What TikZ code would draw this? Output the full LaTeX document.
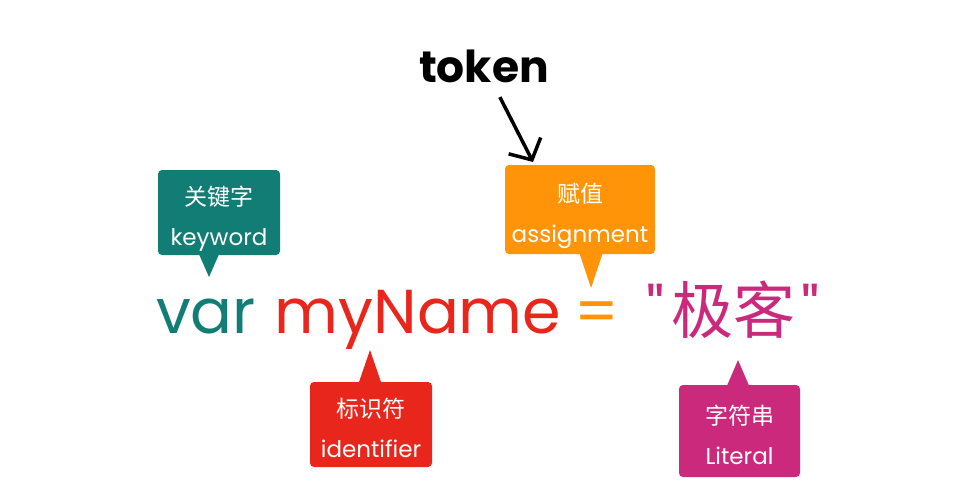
\documentclass[tikz,border=0pt]{standalone}
\usepackage{fontspec}
\setmainfont{Poppins}
\newfontfamily\cjk{Noto Sans CJK SC}
\newfontfamily\qfont[Ligatures=ResetAll]{Poppins}
\usepackage{xcolor}
\usepackage{tikz}
\usetikzlibrary{positioning,calc,arrows.meta}
\definecolor{kwgreen}{HTML}{127D74}
\definecolor{idred}{HTML}{E8261B}
\definecolor{asorange}{HTML}{FF9408}
\definecolor{litpink}{HTML}{CB2A7C}
\newcommand\tagtext[2]{\rule{0pt}{33pt}{\cjk #1}\\#2\rule[-7pt]{0pt}{0pt}}
\tikzset{
  tag/.style={fill=#1, text=white, rounded corners=4pt, inner sep=0pt, align=center,
    font=\fontsize{23}{40}\selectfont},
  code/.style={text=#1, anchor=base, inner sep=0pt, font=\fontsize{62}{70}\selectfont},
}

\begin{document}
\begin{tikzpicture}[x=1pt,y=-1pt]
    \useasboundingbox (0,0) rectangle (964,501);
    % Source line
    \node[code=kwgreen] (var) at (206,333) {var};
    \node[code=idred] (myname) at (418,333) {myName};
    \node[code=asorange] (eq) at (597,333) {=};
    \node[code=litpink] (lit) at (733,333) {{\qfont"}\hspace{6pt}{\cjk 极客}\hspace{6pt}{\qfont"}};
    % Keyword tag
    \node[tag=kwgreen, minimum width=122pt, minimum height=85pt] (kw) at (219,212.5) {\tagtext{关键字}{keyword}};
    \coordinate (kwtip) at (209,277);
    \fill[kwgreen] (kwtip) -- ++(-11,-25) -- ++(22,0) -- cycle;
    % Identifier tag
    \node[tag=idred, minimum width=122pt, minimum height=85pt] (id) at (371,424.5) {\tagtext{标识符}{identifier}};
    \coordinate (idtip) at (370,350);
    \fill[idred] (idtip) -- ++(-12,35) -- ++(24,0) -- cycle;
    % Assignment tag
    \node[tag=asorange, minimum width=150pt, minimum height=89pt] (as) at (580,209.5) {\tagtext{赋值}{assignment}};
    \coordinate (astip) at (591,288);
    \fill[asorange] (astip) -- ++(-12,-36) -- ++(24,0) -- cycle;
    % Literal tag
    \node[tag=litpink, minimum width=121pt, minimum height=92pt] (str) at (739.5,431) {\tagtext{字符串}{Literal}};
    \coordinate (strtip) at (738,360);
    \fill[litpink] (strtip) -- ++(-12,28) -- ++(24,0) -- cycle;
    % Token
    \node[font=\fontsize{44}{50}\selectfont\bfseries, inner sep=2pt] (token) at (484,66) {token};
    \coordinate (tokentip) at (533,162);
    \draw[line width=3.5pt, shorten <=14pt, -{Straight Barb[length=16pt,width=36pt]}] (token) -- (tokentip);
\end{tikzpicture}
\end{document}
